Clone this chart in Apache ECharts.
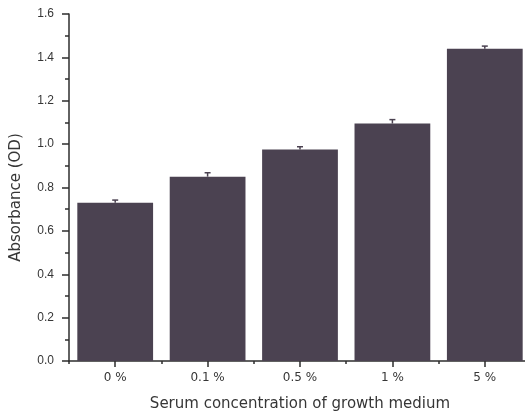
<!DOCTYPE html>
<html>
<head>
<meta charset="utf-8">
<script src="https://cdn.jsdelivr.net/npm/echarts@6/dist/echarts.min.js"></script>
<style>
  html, body { margin: 0; padding: 0; background: #ffffff; }
  #chart { width: 525px; height: 417px; }
</style>
</head>
<body>
<div id="chart"></div>
<script>
// Serum concentrations tested
const categories = ['0 %', '0.1 %', '0.5 %', '1 %', '5 %'];
// Mean absorbance (OD) per concentration
const absorbance = [0.73, 0.85, 0.975, 1.095, 1.44];
// Standard error for each mean
const errors = [0.012, 0.018, 0.013, 0.018, 0.012];
// Y axis tick range
const yTicks = { min: 0, max: 1.6, step: 0.2 };

const barColor = '#4b4251';
const textColor = '#363636';

const chart = echarts.init(document.getElementById('chart'), null, { renderer: 'canvas' });

const errorData = categories.map((c, i) => [i, absorbance[i], absorbance[i] + errors[i]]);

chart.setOption({
  animation: false,
  backgroundColor: '#ffffff',
  grid: { left: 69, top: 14, width: 462, height: 347, containLabel: false, outerBoundsMode: 'none' },
  xAxis: [
    {
      type: 'category',
      data: categories,
      position: 'bottom',
      name: 'Serum concentration of growth medium',
      nameLocation: 'middle',
      nameGap: 36,
      nameTextStyle: { fontFamily: 'DejaVu Sans', fontSize: 15, color: textColor },
      axisLine: { show: true, lineStyle: { color: '#2e2e2e', width: 1.5 } },
      axisTick: { show: true, alignWithLabel: true, length: 6, lineStyle: { color: '#2e2e2e', width: 1.5 } },
      axisLabel: { margin: 11, fontFamily: 'DejaVu Sans', fontSize: 12, color: textColor },
      splitLine: { show: false }
    },
    {
      type: 'category',
      data: categories,
      position: 'bottom',
      axisLine: { show: false },
      axisTick: { show: true, length: 3, lineStyle: { color: '#2e2e2e', width: 1.5 } },
      axisLabel: { show: false },
      splitLine: { show: false }
    }
  ],
  yAxis: {
    type: 'value',
    min: yTicks.min,
    max: yTicks.max,
    interval: yTicks.step,
    name: 'Absorbance (OD)',
    nameLocation: 'middle',
    nameGap: 45,
    nameRotate: 90,
    nameTextStyle: { fontFamily: 'DejaVu Sans', fontSize: 15, color: textColor, padding: [0, 20, 0, 0] },
    axisLine: { show: true, lineStyle: { color: '#2e2e2e', width: 1.5 } },
    axisTick: { show: true, length: 7, lineStyle: { color: '#2e2e2e', width: 1.5 } },
    minorTick: { show: true, splitNumber: 2, length: 4, lineStyle: { color: '#2e2e2e', width: 1.5 } },
    axisLabel: {
      margin: 15,
      fontFamily: 'Liberation Sans',
      fontSize: 12,
      color: textColor,
      formatter: v => v.toFixed(1)
    },
    splitLine: { show: false }
  },
  series: [
    {
      type: 'bar',
      data: absorbance,
      barWidth: '82%',
      itemStyle: { color: barColor }
    },
    {
      type: 'custom',
      data: errorData,
      z: 3,
      renderItem: function (params, api) {
        const x = api.value(0);
        const lo = api.coord([x, api.value(1)]);
        const hi = api.coord([x, api.value(2)]);
        const half = 3;
        const style = { stroke: barColor, lineWidth: 1.5 };
        return {
          type: 'group',
          children: [
            { type: 'line', shape: { x1: lo[0], y1: lo[1], x2: hi[0], y2: hi[1] }, style: style },
            { type: 'line', shape: { x1: hi[0] - half, y1: hi[1], x2: hi[0] + half, y2: hi[1] }, style: style }
          ]
        };
      }
    }
  ]
});
</script>
</body>
</html>
